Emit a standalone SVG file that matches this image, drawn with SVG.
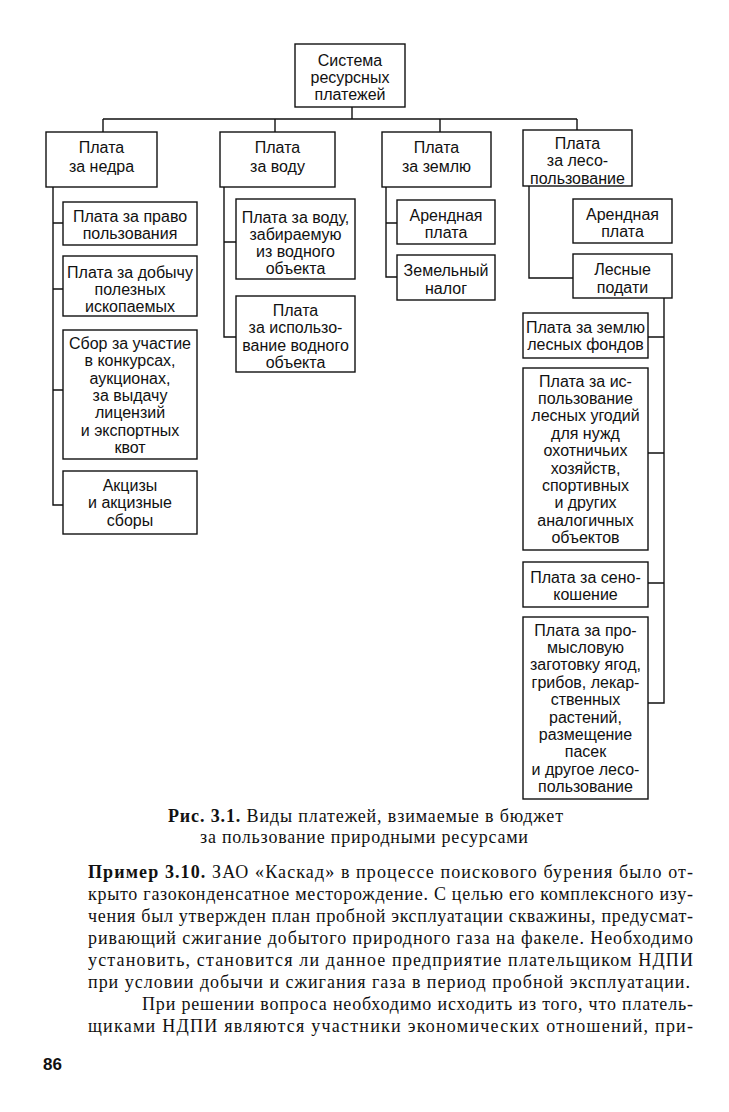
<svg xmlns="http://www.w3.org/2000/svg" width="729" height="1112" viewBox="0 0 729 1112">
<style>
.b{fill:#fff;stroke:#111;stroke-width:1.4}
.t{font-family:"Liberation Sans",Arial,sans-serif;font-size:16px;fill:#111;text-anchor:middle}
.c{fill:none;stroke:#111;stroke-width:1.4}
.s{font-family:"Liberation Serif","Times New Roman",serif;font-size:18px;fill:#111}
.bold{font-weight:bold}
</style>
<rect width="729" height="1112" fill="#fff"/>
<g id="connectors">
<path class="c" d="M352 107V119M103 119H577M103 119V132M275 119V132M440 119V132M577 119V130"/>
<path class="c" d="M53 187V505H63M53 223H63M53 289H63M53 390H63"/>
<path class="c" d="M224 187V337H236M224 242H236"/>
<path class="c" d="M386 187V277H397M386 223H397"/>
<path class="c" d="M529 186V278H573"/>
<path class="c" d="M664 298V703H648M648 337H664M648 453H664M648 583H664"/>
</g>
<g id="root"><rect class="b" x="295" y="44" width="110" height="63"/>
<text class="t"><tspan x="350" y="65.5">Система</tspan><tspan x="350" y="82.5">ресурсных</tspan><tspan x="350" y="99.5">платежей</tspan></text></g>
<g id="nedra"><rect class="b" x="46" y="132" width="111" height="55"/>
<text class="t"><tspan x="101.5" y="152.5">Плата</tspan><tspan x="101.5" y="171.5">за недра</tspan></text></g>
<g id="voda"><rect class="b" x="220" y="132" width="115" height="55"/>
<text class="t"><tspan x="277.5" y="152.5">Плата</tspan><tspan x="277.5" y="171.5">за воду</tspan></text></g>
<g id="zemlya"><rect class="b" x="382" y="132" width="109" height="55"/>
<text class="t"><tspan x="436.5" y="152.5">Плата</tspan><tspan x="436.5" y="171.5">за землю</tspan></text></g>
<g id="les"><rect class="b" x="523" y="130" width="109" height="56"/>
<text class="t"><tspan x="577.5" y="148.5">Плата</tspan><tspan x="577.5" y="166">за лесо-</tspan><tspan x="577.5" y="183.5">пользование</tspan></text></g>
<g id="pravo"><rect class="b" x="63" y="202" width="134" height="43"/>
<text class="t"><tspan x="130" y="221.5">Плата за право</tspan><tspan x="130" y="238.5">пользования</tspan></text></g>
<g id="dobycha"><rect class="b" x="63" y="256" width="134" height="60"/>
<text class="t"><tspan x="130" y="277.5">Плата за добычу</tspan><tspan x="130" y="294.5">полезных</tspan><tspan x="130" y="311.5">ископаемых</tspan></text></g>
<g id="sbor"><rect class="b" x="63" y="330" width="134" height="129"/>
<text class="t"><tspan x="130" y="348.5">Сбор за участие</tspan><tspan x="130" y="366">в конкурсах,</tspan><tspan x="130" y="383.5">аукционах,</tspan><tspan x="130" y="400.5">за выдачу</tspan><tspan x="130" y="418">лицензий</tspan><tspan x="130" y="435.5">и экспортных</tspan><tspan x="130" y="452.5">квот</tspan></text></g>
<g id="akcizy"><rect class="b" x="63" y="471" width="134" height="63"/>
<text class="t"><tspan x="130" y="490.5">Акцизы</tspan><tspan x="130" y="508">и акцизные</tspan><tspan x="130" y="525.5">сборы</tspan></text></g>
<g id="voda1"><rect class="b" x="236" y="199" width="119" height="80"/>
<text class="t"><tspan x="295.5" y="222.5">Плата за воду,</tspan><tspan x="295.5" y="239.5">забираемую</tspan><tspan x="295.5" y="256.5">из водного</tspan><tspan x="295.5" y="273.5">объекта</tspan></text></g>
<g id="voda2"><rect class="b" x="236" y="296" width="119" height="76"/>
<text class="t"><tspan x="295.5" y="315.5">Плата</tspan><tspan x="295.5" y="333">за использо-</tspan><tspan x="295.5" y="350.5">вание водного</tspan><tspan x="295.5" y="367.5">объекта</tspan></text></g>
<g id="zem1"><rect class="b" x="397" y="200" width="98" height="44"/>
<text class="t"><tspan x="446" y="220.5">Арендная</tspan><tspan x="446" y="237.5">плата</tspan></text></g>
<g id="zem2"><rect class="b" x="397" y="255" width="98" height="45"/>
<text class="t"><tspan x="446" y="275.5">Земельный</tspan><tspan x="446" y="293.5">налог</tspan></text></g>
<g id="les-arenda"><rect class="b" x="573" y="199" width="99" height="44"/>
<text class="t"><tspan x="622.5" y="219.5">Арендная</tspan><tspan x="622.5" y="236.5">плата</tspan></text></g>
<g id="les-podati"><rect class="b" x="573" y="254" width="99" height="44"/>
<text class="t"><tspan x="622.5" y="275">Лесные</tspan><tspan x="622.5" y="292.5">подати</tspan></text></g>
<g id="lf1"><rect class="b" x="523" y="313" width="125" height="45"/>
<text class="t"><tspan x="585.5" y="332.5">Плата за землю</tspan><tspan x="585.5" y="349.5">лесных фондов</tspan></text></g>
<g id="lf2"><rect class="b" x="523" y="368" width="125" height="182"/>
<text class="t"><tspan x="585.5" y="386.5">Плата за ис-</tspan><tspan x="585.5" y="404">пользование</tspan><tspan x="585.5" y="421.3">лесных угодий</tspan><tspan x="585.5" y="438.7">для нужд</tspan><tspan x="585.5" y="456.1">охотничьих</tspan><tspan x="585.5" y="473.5">хозяйств,</tspan><tspan x="585.5" y="490.9">спортивных</tspan><tspan x="585.5" y="508.3">и других</tspan><tspan x="585.5" y="525.7">аналогичных</tspan><tspan x="585.5" y="543.1">объектов</tspan></text></g>
<g id="lf3"><rect class="b" x="523" y="562" width="125" height="45"/>
<text class="t"><tspan x="585.5" y="582.5">Плата за сено-</tspan><tspan x="585.5" y="599.5">кошение</tspan></text></g>
<g id="lf4"><rect class="b" x="523" y="617" width="125" height="182"/>
<text class="t"><tspan x="585.5" y="635.5">Плата за про-</tspan><tspan x="585.5" y="653">мысловую</tspan><tspan x="585.5" y="670.3">заготовку ягод,</tspan><tspan x="585.5" y="687.7">грибов, лекар-</tspan><tspan x="585.5" y="705.1">ственных</tspan><tspan x="585.5" y="722.5">растений,</tspan><tspan x="585.5" y="739.9">размещение</tspan><tspan x="585.5" y="757.3">пасек</tspan><tspan x="585.5" y="774.7">и другое лесо-</tspan><tspan x="585.5" y="792.1">пользование</tspan></text></g>
<g id="caption">
<text class="s" x="168" y="822" textLength="395" lengthAdjust="spacing"><tspan class="bold">Рис. 3.1.</tspan> Виды платежей, взимаемые в бюджет</text>
<text class="s" x="200" y="843" textLength="328" lengthAdjust="spacing">за пользование природными ресурсами</text>
</g>
<g id="body">
<text class="s" x="88" y="878" textLength="605" lengthAdjust="spacing"><tspan class="bold">Пример 3.10.</tspan> ЗАО «Каскад» в процессе поискового бурения было от-</text>
<text class="s" x="88" y="900" textLength="605" lengthAdjust="spacing">крыто газоконденсатное месторождение. С целью его комплексного изу-</text>
<text class="s" x="88" y="922" textLength="605" lengthAdjust="spacing">чения был утвержден план пробной эксплуатации скважины, предусмат-</text>
<text class="s" x="88" y="944" textLength="605" lengthAdjust="spacing">ривающий сжигание добытого природного газа на факеле. Необходимо</text>
<text class="s" x="88" y="966" textLength="605" lengthAdjust="spacing">установить, становится ли данное предприятие плательщиком НДПИ</text>
<text class="s" x="88" y="988" textLength="602" lengthAdjust="spacing">при условии добычи и сжигания газа в период пробной эксплуатации.</text>
<text class="s" x="142" y="1010" textLength="551" lengthAdjust="spacing">При решении вопроса необходимо исходить из того, что платель-</text>
<text class="s" x="88" y="1032" textLength="605" lengthAdjust="spacing">щиками НДПИ являются участники экономических отношений, при-</text>
</g>
<text x="43" y="1070" font-family="Liberation Sans, Arial, sans-serif" font-size="17" font-weight="bold" fill="#111">86</text>
</svg>
